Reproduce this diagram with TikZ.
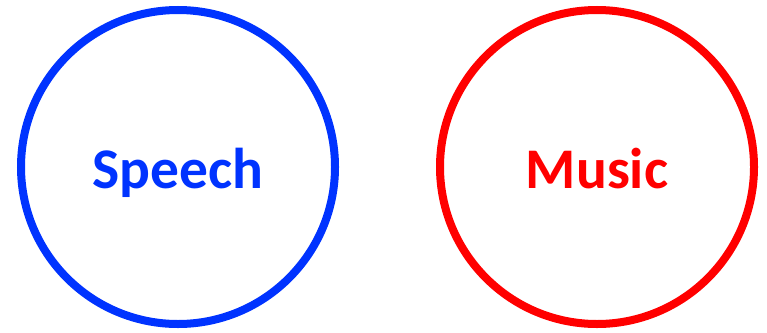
\documentclass[tikz,border=0pt]{standalone}
\usepackage{fontspec}
\setmainfont{Carlito}
\definecolor{sblue}{RGB}{0,51,255}
\definecolor{mred}{RGB}{255,0,0}
\begin{document}
\begin{tikzpicture}[x=1pt,y=-1pt,
  ring/.style={draw=#1, line width=8pt, circle, minimum size=314pt, inner sep=0pt},
  lbl/.style={text=#1, font=\fontsize{57.5}{64}\selectfont\bfseries, anchor=base}]
\useasboundingbox (0,0) rectangle (767,332);
\node[ring=sblue] (speechc) at (178,167) {};
\node[ring=mred] (musicc) at (597,167) {};
\node[lbl=sblue] (speech) at (178,188) {Speech};
\node[lbl=mred] (music) at (597,188) {Music};
\end{tikzpicture}
\end{document}
